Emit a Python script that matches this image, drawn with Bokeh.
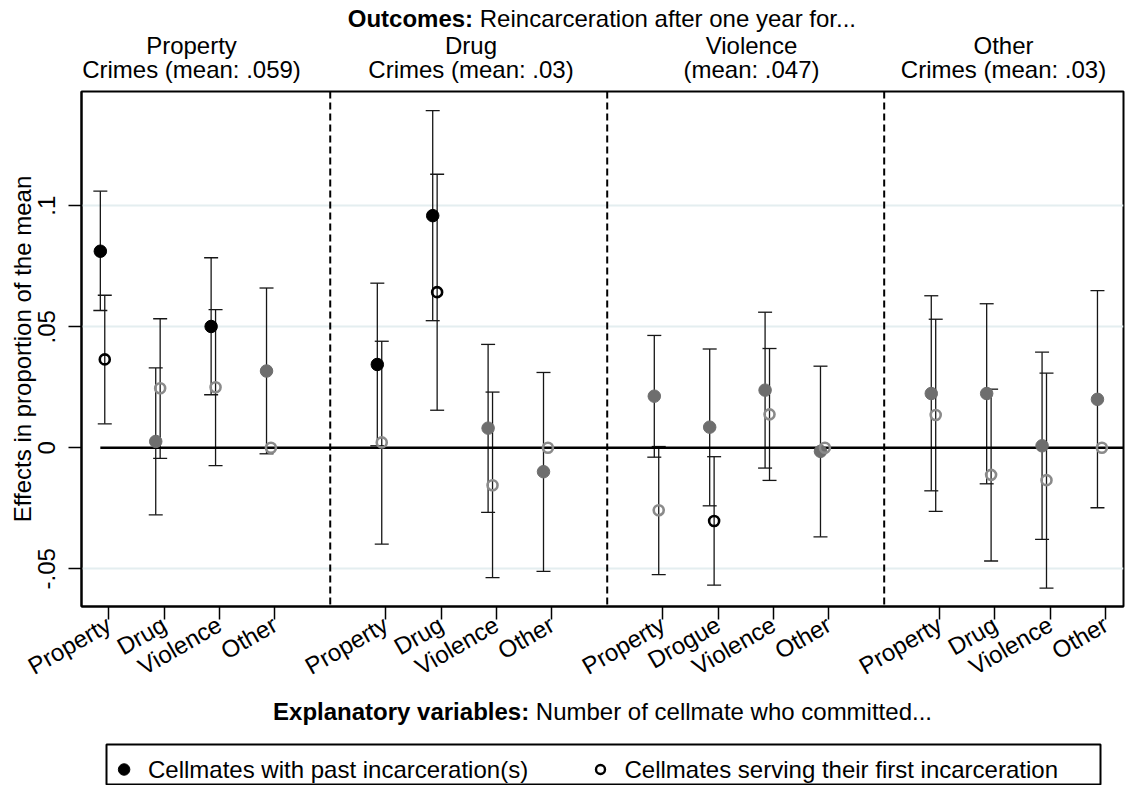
import math

from bokeh.embed import file_html
from bokeh.layouts import column
from bokeh.models import (ColumnDataSource, FixedTicker, Range1d, Span,
                          TeeHead, Whisker)
from bokeh.core.properties import value
from bokeh.plotting import figure
from bokeh.resources import INLINE

FONT = "Liberation Sans"

# ---------------------------------------------------------------- data
outcome_names = ["Property", "Drug", "Violence", "Other"]
outcome_means = ["Crimes (mean: .059)", "Crimes (mean: .03)",
                 "(mean: .047)", "Crimes (mean: .03)"]

regressor_labels = [
    ["Property", "Drug", "Violence", "Other"],
    ["Property", "Drug", "Violence", "Other"],
    ["Property", "Drogue", "Violence", "Other"],
    ["Property", "Drug", "Violence", "Other"],
]

# cellmates with past incarceration(s): estimate and 95% CI
past_est = [0.0812, 0.0026, 0.0501, 0.0317,
            0.0344, 0.0959, 0.0081, -0.0099,
            0.0213, 0.0085, 0.0238, -0.0015,
            0.0224, 0.0224, 0.0008, 0.0200]
past_lo = [0.0567, -0.0277, 0.0219, -0.0025,
           0.0008, 0.0525, -0.0267, -0.0511,
           -0.0039, -0.0240, -0.0084, -0.0368,
           -0.0178, -0.0149, -0.0379, -0.0248]
past_hi = [0.1060, 0.0330, 0.0785, 0.0660,
           0.0680, 0.1393, 0.0427, 0.0311,
           0.0464, 0.0408, 0.0560, 0.0337,
           0.0628, 0.0595, 0.0395, 0.0649]

# cellmates serving their first incarceration: estimate and 95% CI
first_est = [0.0365, 0.0246, 0.0250, 0.0,
             0.0022, 0.0643, -0.0155, 0.0,
             -0.0258, -0.0303, 0.0138, 0.0,
             0.0135, -0.0112, -0.0134, 0.0]
first_lo = [0.0099, -0.0044, -0.0074, 0.0,
            -0.0398, 0.0155, -0.0537, 0.0,
            -0.0524, -0.0568, -0.0135, 0.0,
            -0.0263, -0.0468, -0.0580, 0.0]
first_hi = [0.0630, 0.0533, 0.0571, 0.0,
            0.0440, 0.1130, 0.0230, 0.0,
            0.0005, -0.0037, 0.0410, 0.0,
            0.0531, 0.0242, 0.0308, 0.0]

y_ticks = [-0.05, 0.0, 0.05, 0.1]
y_tick_labels = ["-.05", "0", ".05", ".1"]
y_title = "Effects in proportion of the mean"

header_bold, header_plain = "Outcomes:", "Reincarceration after one year for..."
footer_bold, footer_plain = ("Explanatory variables:",
                             "Number of cellmate who committed...")

legend_labels = ["Cellmates with past incarceration(s)",
                 "Cellmates serving their first incarceration"]

# ---------------------------------------------------------------- geometry
W = 1126
L, R = 81, 1123                 # frame left / right edge in the page
H_HEAD = 86                     # header strip
MAIN_TOP, MAIN_FRAME, MAIN_BOTTOM = 5, 515, 92
H_MAIN = MAIN_TOP + MAIN_FRAME + MAIN_BOTTOM
H_FOOT = 785 - H_HEAD - H_MAIN
X0, X1 = 0.51, 19.32
Y0, Y1 = -0.0656, 0.1472
FS = "24px"

n_panels = len(outcome_names)
tick_pos = [5 * k + j + 1 for k in range(n_panels) for j in range(4)]
tick_text = [lab for labs in regressor_labels for lab in labs]
x_past = [t - 0.15 for t in tick_pos]
x_first = [t - 0.07 for t in tick_pos]

BLACK = "#000000"
GREY_FILLED = "#6e6e6e"
GREY_HOLLOW = "#8a8a8a"
CI_COLOR = "#161616"


def significant(lo, hi):
    return (lo > 0) or (hi < 0)


past_col = [BLACK if significant(a, b) else GREY_FILLED
            for a, b in zip(past_lo, past_hi)]
first_col = [BLACK if significant(a, b) else GREY_HOLLOW
             for a, b in zip(first_lo, first_hi)]


def strip(height):
    """A plain figure used for text above / below the main panel.
    x and y are page pixels (y measured downwards from the strip top)."""
    f = figure(width=W, height=height, x_range=Range1d(L, R),
               y_range=Range1d(height, 0), output_backend="svg",
               toolbar_location=None, title=None, min_border=0,
               min_border_left=L, min_border_right=W - R,
               min_border_top=0, min_border_bottom=0)
    f.axis.visible = False
    f.grid.visible = False
    f.outline_line_color = None
    f.border_fill_color = "white"
    f.background_fill_color = "white"
    return f


def text_width(s, bold=False):
    # Arial/Liberation Sans advance widths (em) for the glyphs used here
    w = {" ": .278, ".": .278, ":": .333 if bold else .278, "a": .556,
         "b": .611 if bold else .556, "c": .556 if bold else .5,
         "d": .611 if bold else .556, "e": .556, "f": .333 if bold else .278,
         "h": .611 if bold else .556, "i": .278 if bold else .222,
         "l": .278 if bold else .222, "m": .889 if bold else .833,
         "n": .611 if bold else .556, "o": .611 if bold else .556,
         "p": .611 if bold else .556, "r": .389 if bold else .333,
         "s": .556 if bold else .5, "t": .333 if bold else .278,
         "u": .611 if bold else .556, "v": .556 if bold else .5,
         "w": .778 if bold else .722, "x": .556 if bold else .5,
         "y": .556 if bold else .5, "E": .667, "N": .722, "O": .778,
         "R": .722}
    return sum(w.get(ch, .556) for ch in s) * 24


def bold_plain(f, bold, plain, center, mid_y):
    wb, wp, gap = text_width(bold, True), text_width(plain), 6.7
    start = center - (wb + gap + wp) / 2
    f.text(x=[start + wb], y=[mid_y], text=[bold],
           text_font=value(FONT), text_font_size=FS, text_font_style="bold",
           text_align="right", text_baseline="middle", text_color="black")
    f.text(x=[start + wb + gap], y=[mid_y], text=[plain],
           text_font=value(FONT), text_font_size=FS, text_align="left",
           text_baseline="middle", text_color="black")


# ---------------------------------------------------------------- header
head = strip(H_HEAD)
bold_plain(head, header_bold, header_plain, (L + R) / 2, 18)
title_centers = [191, 470.5, 751, 1003]
head.text(x=title_centers * 2, y=[45] * n_panels + [69] * n_panels,
          text=outcome_names + outcome_means, text_font=value(FONT),
          text_font_size=FS, text_align="center", text_baseline="middle",
          text_color="black")

# ---------------------------------------------------------------- main panel
p = figure(width=W, height=H_MAIN,
           x_range=Range1d(X0, X1), y_range=Range1d(Y0, Y1),
           output_backend="svg", toolbar_location=None, title=None,
           min_border_left=L, min_border_right=W - R,
           min_border_top=MAIN_TOP, min_border_bottom=MAIN_BOTTOM)
p.background_fill_color = "white"
p.border_fill_color = "white"
p.outline_line_color = "black"
p.outline_line_width = 2

p.xaxis.ticker = FixedTicker(ticks=tick_pos)
p.xaxis.major_label_overrides = {t: s for t, s in zip(tick_pos, tick_text)}
p.xaxis.major_label_orientation = math.pi / 6
p.yaxis.ticker = FixedTicker(ticks=y_ticks)
p.yaxis.major_label_overrides = {t: s for t, s in zip(y_ticks, y_tick_labels)}
p.yaxis.major_label_orientation = "vertical"
p.yaxis.axis_label = y_title
p.yaxis.axis_label_text_font = FONT
p.yaxis.axis_label_text_font_size = FS
p.yaxis.axis_label_text_font_style = "normal"
p.yaxis.axis_label_text_color = "black"
p.yaxis.axis_label_standoff = 0
for ax in (p.xaxis[0], p.yaxis[0]):
    ax.axis_line_color = "black"
    ax.axis_line_width = 2
    ax.major_tick_line_color = "black"
    ax.major_tick_line_width = 1.5
    ax.major_tick_out = 13
    ax.major_tick_in = 0
    ax.minor_tick_out = 0
    ax.minor_tick_in = 0
    ax.major_label_text_font = FONT
    ax.major_label_text_font_size = FS
    ax.major_label_text_color = "black"
p.xaxis.major_label_standoff = 3
p.yaxis.major_label_standoff = 13

p.xgrid.visible = False
p.ygrid.ticker = FixedTicker(ticks=[t for t in y_ticks if t != 0])
p.ygrid.grid_line_color = "#e4eef0"
p.ygrid.grid_line_width = 2

# panel separators
for k in range(1, n_panels):
    p.add_layout(Span(location=5 * k, dimension="height", line_color="black",
                      line_width=2, line_dash="7 4"))

# zero reference line
p.line([min(x_past), X1], [0, 0], line_color="black", line_width=2.6)

# confidence intervals
past_src = ColumnDataSource(dict(x=x_past, y=past_est, lo=past_lo, hi=past_hi,
                                 c=past_col))
keep = [i for i in range(len(first_est)) if first_lo[i] != first_hi[i]]
first_ci = ColumnDataSource(dict(x=[x_first[i] for i in keep],
                                 lo=[first_lo[i] for i in keep],
                                 hi=[first_hi[i] for i in keep]))
first_src = ColumnDataSource(dict(x=x_first, y=first_est, c=first_col))

for src in (past_src, first_ci):
    p.add_layout(Whisker(source=src, base="x", lower="lo", upper="hi",
                         line_color=CI_COLOR, line_width=1.3,
                         upper_head=TeeHead(size=14, line_color=CI_COLOR,
                                            line_width=1.3),
                         lower_head=TeeHead(size=14, line_color=CI_COLOR,
                                            line_width=1.3)))

p.scatter("x", "y", source=past_src, marker="circle", size=12.5,
          fill_color="c", line_color="c", line_width=1)
p.scatter("x", "y", source=first_src, marker="circle", size=10,
          fill_alpha=0, line_color="c", line_width=2.6)

# ---------------------------------------------------------------- footer
foot = strip(H_FOOT)
foot_top = H_HEAD + H_MAIN            # page row where the footer starts
bold_plain(foot, footer_bold, footer_plain, (L + R) / 2, 711 - foot_top)

box_t, box_b = 744 - foot_top, 784 - foot_top
foot.quad(left=[106], right=[1100], top=[box_t], bottom=[box_b],
          fill_alpha=0, line_color="black", line_width=2)
mid = 769 - foot_top
foot.scatter([123.6], [mid], marker="circle", size=11.5,
             fill_color="black", line_color="black")
foot.scatter([600], [mid], marker="circle", size=9,
             fill_alpha=0, line_color="black", line_width=2.4)
foot.text(x=[147.5, 624], y=[mid, mid], text=legend_labels,
          text_font=value(FONT), text_font_size=FS, text_baseline="middle",
          text_align="left", text_color="black")

layout = column(head, p, foot, spacing=0)
open("out.html", "w").write(file_html(layout, INLINE))
